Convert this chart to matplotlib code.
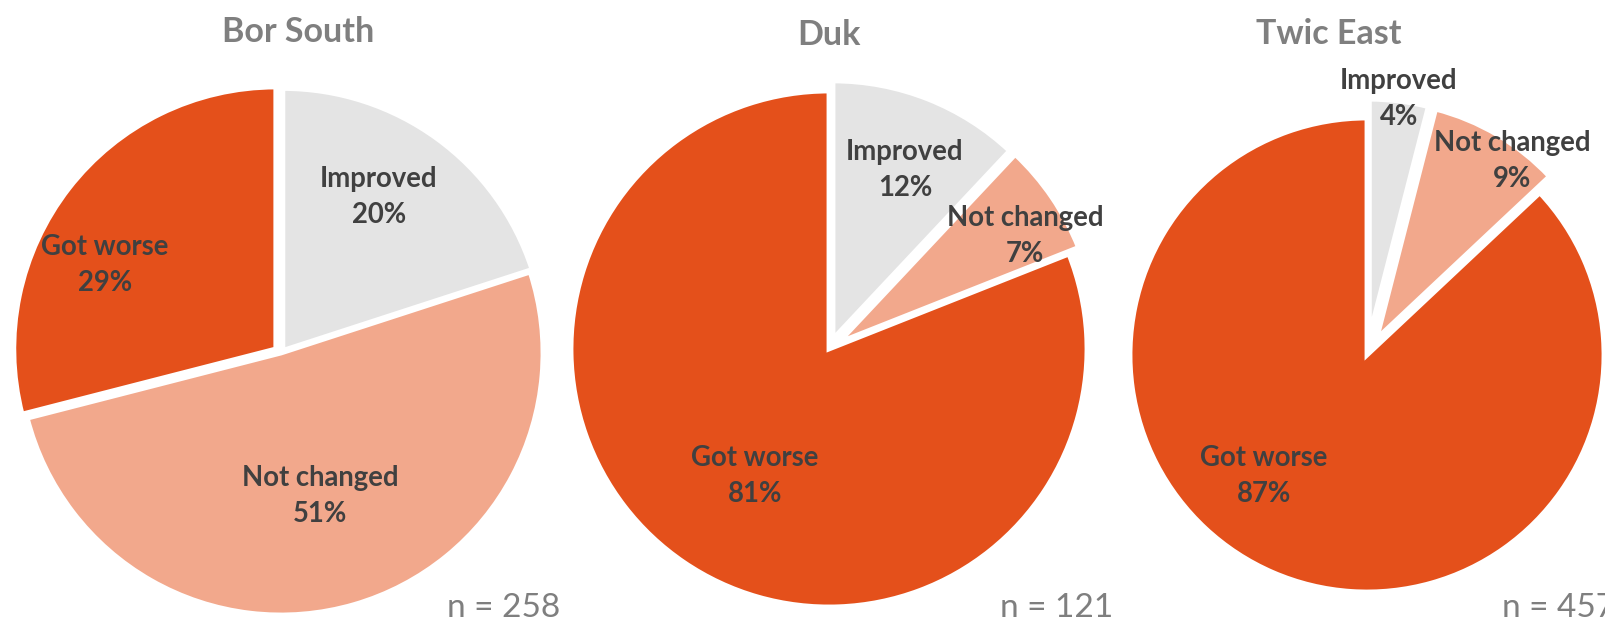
import matplotlib
matplotlib.use("Agg")
import matplotlib.pyplot as plt

W, H = 1605, 622

# data
regions = ["Bor South", "Duk", "Twic East"]
categories = ["Improved", "Not changed", "Got worse"]
bor_south = [20, 51, 29]
duk = [12, 7, 81]
twic_east = [4, 9, 87]
n_sizes = [258, 121, 457]

colors = ["#E4E4E4", "#F2A88C", "#E4501B"]

# layout (pixels in the 1605x622 image)
centers = [(281, 353), (829, 349), (1367, 355)]
radii = [262, 258, 237]
explodes = [[0.012, 0.0, 0.025], [0.042, 0.045, 0.0], [0.08, 0.08, 0.0]]
title_pos = [(298, 32), (829, 35), (1329, 34)]
n_pos = [(447, 617), (1000, 617), (1502, 617)]
label_pos = [
    [(379, 197), (320, 496), (105, 265)],
    [(905, 170), (1025, 236), (755, 476)],
    [(1399, 99), (1512, 161), (1264, 476)],
]

plt.rcParams['font.family'] = ['Lato', 'DejaVu Sans']

fig = plt.figure(figsize=(W / 100, H / 100), dpi=100)
PAD = 1.3


def fx(x):
    return x / W


def fy(y):
    return 1 - y / H


for i, vals in enumerate([bor_south, duk, twic_east]):
    cx, cy = centers[i]
    r = radii[i]
    ax = fig.add_axes([(cx - PAD * r) / W, (H - cy - PAD * r) / H,
                       2 * PAD * r / W, 2 * PAD * r / H])
    ax.pie(vals, colors=colors, startangle=90, counterclock=False,
           explode=explodes[i],
           wedgeprops=dict(edgecolor="white", linewidth=3.5))
    ax.set_aspect('auto')
    ax.set_xlim(-PAD, PAD)
    ax.set_ylim(-PAD, PAD)
    ax.axis('off')

    fig.text(fx(title_pos[i][0]), fy(title_pos[i][1]), regions[i],
             ha='center', va='center', fontsize=24.5, fontweight='bold',
             color="#7F7F7F")
    fig.text(fx(n_pos[i][0]), fy(n_pos[i][1]), f"n = {n_sizes[i]}",
             ha='left', va='baseline', fontsize=24, color="#7F7F7F")
    for j, cat in enumerate(categories):
        lx, ly = label_pos[i][j]
        fig.text(fx(lx), fy(ly), f"{cat}\n{vals[j]}%", ha='center',
                 va='center', fontsize=19.8, fontweight='bold',
                 color="#404040", linespacing=1.5)

fig.savefig("out.png", dpi=100)
